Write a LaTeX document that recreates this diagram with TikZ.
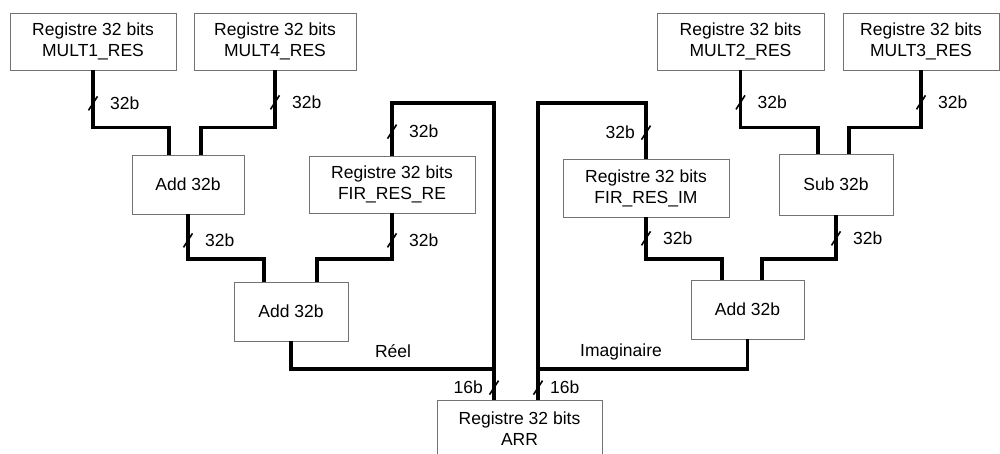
\documentclass[tikz,border=0pt]{standalone}
\usepackage{fontspec}
\setmainfont{Liberation Sans}
\usetikzlibrary{calc}
\begin{document}
\begin{tikzpicture}[x=1pt,y=-1pt,
  box/.style={draw=black!55, line width=0.7pt, inner sep=0pt, align=center, font=\fontsize{17.5}{21}\selectfont},
  lbl/.style={inner sep=0pt, font=\fontsize{17.5}{21}\selectfont},
  bus/.style={line width=3.3pt},
  slash/.pic={\draw[line width=1.6pt] (-4.5,7) -- (4.5,-7);}]
\useasboundingbox (0,0) rectangle (1000,453);
% level coordinates
\coordinate (ya) at (0,127.5);
\coordinate (yt) at (0,103);
\coordinate (yb) at (0,259);
\coordinate (yc) at (0,369);
% boxes
\node[box, minimum width=166pt, minimum height=57pt] (m1) at (93,41.5) {Registre 32 bits\\MULT1\_RES};
\node[box, minimum width=162pt, minimum height=57pt] (m4) at (275,41.5) {Registre 32 bits\\MULT4\_RES};
\node[box, minimum width=167pt, minimum height=57pt] (m2) at (740.5,41.5) {Registre 32 bits\\MULT2\_RES};
\node[box, minimum width=156pt, minimum height=57pt] (m3) at (921,41.5) {Registre 32 bits\\MULT3\_RES};
\node[box, minimum width=112pt, minimum height=59pt] (add1) at (188,184.5) {Add 32b};
\node[box, minimum width=166pt, minimum height=57pt] (firre) at (392,184.5) {Registre 32 bits\\FIR\_RES\_RE};
\node[box, minimum width=114pt, minimum height=59pt] (add2) at (291,311.5) {Add 32b};
\node[box, minimum width=166pt, minimum height=58pt] (firim) at (646,188) {Registre 32 bits\\FIR\_RES\_IM};
\node[box, minimum width=114pt, minimum height=61pt] (sub) at (836,184.5) {Sub 32b};
\node[box, minimum width=113pt, minimum height=59pt] (add3) at (747.5,309.5) {Add 32b};
\node[box, minimum width=165pt, minimum height=58pt] (arr) at (519.5,429) {Registre 32 bits\\ARR};
% buses left
\draw[bus] (m1.south) -- (m1.south |- ya) -| ([xshift=-19pt]add1.north);
\draw[bus] (m4.south) -- (m4.south |- ya) -| ([xshift=13pt]add1.north);
\draw[bus] (add1.south) -- (add1.south |- yb) -| ([xshift=-27pt]add2.north);
\draw[bus] (firre.south) -- (firre.south |- yb) -| ([xshift=26pt]add2.north);
\draw[bus] (firre.north) -- (firre.north |- yt) -| ([xshift=-25.5pt]arr.north);
\draw[bus] (add2.south) -- (add2.south |- yc) -- ([xshift=-25.5pt]arr.north |- yc);
% buses right
\draw[bus] (m2.south) -- (m2.south |- ya) -| ([xshift=-18pt]sub.north);
\draw[bus] (m3.south) -- (m3.south |- ya) -| ([xshift=13pt]sub.north);
\draw[bus] (firim.south) -- (firim.south |- yb) -| ([xshift=-25.5pt]add3.north);
\draw[bus] (sub.south) -- (sub.south |- yb) -| ([xshift=14.5pt]add3.north);
\draw[bus] (firim.north) -- (firim.north |- yt) -| ([xshift=18.5pt]arr.north);
\draw[bus] (add3.south) -- (add3.south |- yc) -- ([xshift=18.5pt]arr.north |- yc);
% bus width marks
\path ($(m1.south)+(0,33)$) coordinate (s1) pic{slash};
\node[lbl, anchor=west] (l1) at ($(s1)+(17,0)$) {32b};
\path ($(m4.south)+(0,32)$) coordinate (s2) pic{slash};
\node[lbl, anchor=west] (l2) at ($(s2)+(17,0)$) {32b};
\path ($(firre.north)+(0,-24)$) coordinate (s3) pic{slash};
\node[lbl, anchor=west] (l3) at ($(s3)+(17,0)$) {32b};
\path ($(add1.south)+(0,26)$) coordinate (s4) pic{slash};
\node[lbl, anchor=west] (l4) at ($(s4)+(17,0)$) {32b};
\path ($(firre.south)+(0,27)$) coordinate (s5) pic{slash};
\node[lbl, anchor=west] (l5) at ($(s5)+(17,0)$) {32b};
\path ($(arr.north)+(-25.5,-12)$) coordinate (s6) pic{slash};
\node[lbl, anchor=east] (l6) at ($(s6)+(-11,0)$) {16b};
\path ($(arr.north)+(18.5,-12)$) coordinate (s7) pic{slash};
\node[lbl, anchor=west] (l7) at ($(s7)+(12,0)$) {16b};
\path ($(firim.north)+(0,-26)$) coordinate (s8) pic{slash};
\node[lbl, anchor=east] (l8) at ($(s8)+(-11,0)$) {32b};
\path ($(m2.south)+(0,32)$) coordinate (s9) pic{slash};
\node[lbl, anchor=west] (l9) at ($(s9)+(17,0)$) {32b};
\path ($(m3.south)+(0,32)$) coordinate (s10) pic{slash};
\node[lbl, anchor=west] (l10) at ($(s10)+(17,0)$) {32b};
\path ($(firim.south)+(0,21)$) coordinate (s11) pic{slash};
\node[lbl, anchor=west] (l11) at ($(s11)+(17,0)$) {32b};
\path ($(sub.south)+(0,23)$) coordinate (s12) pic{slash};
\node[lbl, anchor=west] (l12) at ($(s12)+(17,0)$) {32b};
% signal names
\node[lbl] (reel) at (393,351) {Réel};
\node[lbl] (imag) at (621,352) {Imaginaire};
\end{tikzpicture}
\end{document}
